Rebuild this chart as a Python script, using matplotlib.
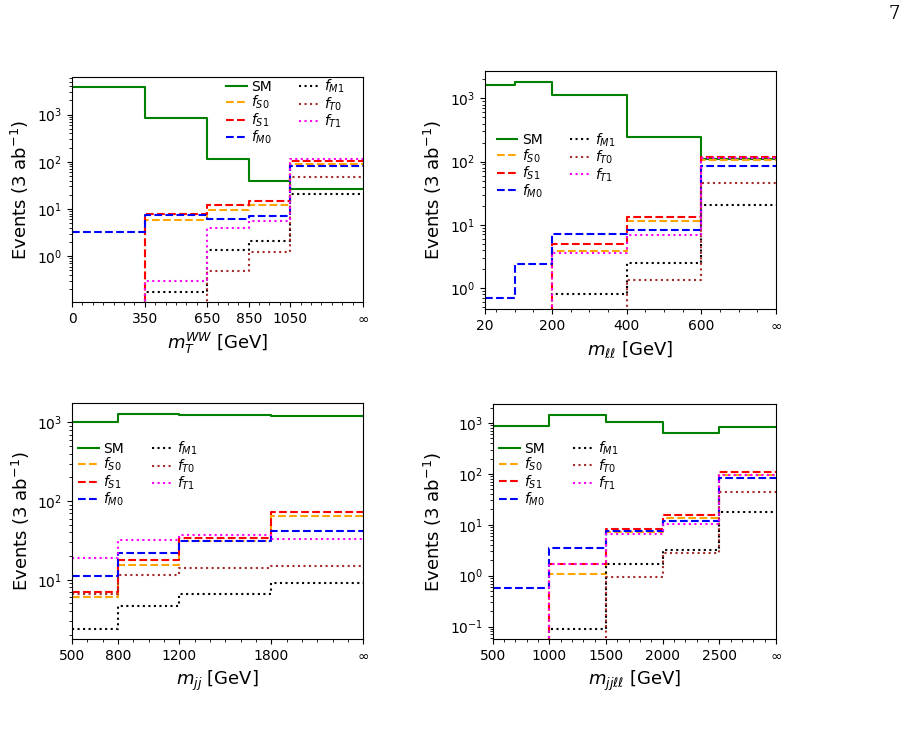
import matplotlib
matplotlib.use('Agg')
import matplotlib.pyplot as plt
import numpy as np
from matplotlib.ticker import MultipleLocator

# bin edges (last edge stands for infinity)
edges_mT = [0, 350, 650, 850, 1050, 1400]
edges_mll = [20, 100, 200, 400, 600, 800]
edges_mjj = [500, 800, 1200, 1800, 2400]
edges_mjjll = [500, 1000, 1500, 2000, 2500, 3000]

ticks_mT = [0, 350, 650, 850, 1050, 1400]
ticks_mll = [20, 200, 400, 600, 800]
ticks_mjj = [500, 800, 1200, 1800, 2400]
ticks_mjjll = [500, 1000, 1500, 2000, 2500, 3000]

labels_mT = ['0', '350', '650', '850', '1050', r'$\infty$']
labels_mll = ['20', '200', '400', '600', r'$\infty$']
labels_mjj = ['500', '800', '1200', '1800', r'$\infty$']
labels_mjjll = ['500', '1000', '1500', '2000', '2500', r'$\infty$']

# events per bin, 3 ab^-1
mT_SM = [3800, 855, 112, 38.5, 27]
mT_S0 = [0, 5.7, 9.7, 12.4, 88]
mT_S1 = [0, 7.7, 12.0, 14.8, 102]
mT_M0 = [3.3, 7.6, 6.2, 7.0, 81]
mT_M1 = [0, 0.176, 1.38, 2.07, 20.5]
mT_T0 = [0, 0, 0.49, 1.23, 47.5]
mT_T1 = [0, 0.30, 4.0, 5.6, 116]

mll_SM = [1625, 1835, 1120, 245, 110]
mll_S0 = [0, 0, 3.8, 11.4, 105]
mll_S1 = [0, 0, 5.0, 13.4, 117]
mll_M0 = [0.68, 2.42, 7.2, 8.3, 86]
mll_M1 = [0, 0, 0.81, 2.45, 20.2]
mll_T0 = [0, 0, 0, 1.35, 46.5]
mll_T1 = [0, 0, 3.5, 6.8, 113]

mjj_SM = [1018, 1276, 1240, 1205]
mjj_S0 = [6.1, 15.2, 30.8, 64.6]
mjj_S1 = [7.1, 17.6, 33.6, 73.5]
mjj_M0 = [11.1, 21.8, 30.8, 41.6]
mjj_M1 = [2.4, 4.65, 6.6, 9.2]
mjj_T0 = [6.6, 11.6, 14.1, 15.1]
mjj_T1 = [19.1, 31.7, 36.7, 33.3]

mjjll_SM = [885, 1455, 1028, 633, 833]
mjjll_S0 = [0, 1.1, 7.1, 13.6, 95]
mjjll_S1 = [0, 1.67, 8.3, 15.8, 107]
mjjll_M0 = [0.56, 3.44, 7.65, 11.7, 81.6]
mjjll_M1 = [0, 0.091, 1.67, 3.24, 17.5]
mjjll_T0 = [0, 0, 0.93, 2.74, 43.3]
mjjll_T1 = [0, 1.72, 6.6, 10.5, 96]

names = ['SM', '$f_{S0}$', '$f_{S1}$', '$f_{M0}$', '$f_{M1}$', '$f_{T0}$', '$f_{T1}$']
colors = ['green', 'orange', 'red', 'blue', 'black', 'brown', 'magenta']
styles = ['-', '--', '--', '--', ':', ':', ':']

panels = [
    (edges_mT, [mT_SM, mT_S0, mT_S1, mT_M0, mT_M1, mT_T0, mT_T1],
     ticks_mT, labels_mT, 50, r'$m_T^{WW}$ [GeV]'),
    (edges_mll, [mll_SM, mll_S0, mll_S1, mll_M0, mll_M1, mll_T0, mll_T1],
     ticks_mll, labels_mll, 50, r'$m_{\ell\ell}$ [GeV]'),
    (edges_mjj, [mjj_SM, mjj_S0, mjj_S1, mjj_M0, mjj_M1, mjj_T0, mjj_T1],
     ticks_mjj, labels_mjj, 100, r'$m_{jj}$ [GeV]'),
    (edges_mjjll, [mjjll_SM, mjjll_S0, mjjll_S1, mjjll_M0, mjjll_M1, mjjll_T0, mjjll_T1],
     ticks_mjjll, labels_mjjll, 100, r'$m_{jj\ell\ell}$ [GeV]'),
]

# axes boxes in figure fractions
boxes = [
    [0.0795, 0.593, 0.3212, 0.3032],
    [0.5353, 0.5832, 0.3212, 0.3212],
    [0.0795, 0.1384, 0.3215, 0.318],
    [0.5438, 0.1384, 0.3127, 0.3171],
]
legend_anchor = [(0.509, 1.02), (0.021, 0.77), (0.0024, 0.868), (0.0035, 0.871)]

fig = plt.figure(figsize=(9.06, 7.42), dpi=100)

for box, panel, anchor in zip(boxes, panels, legend_anchor):
    edges, series, ticks, ticklabels, minor, xlabel = panel
    ax = fig.add_axes(box)
    for vals, name, c, ls in zip(series, names, colors, styles):
        y = np.append(vals, vals[-1])
        ax.step(edges, y, where='post', color=c, linestyle=ls, lw=1.5, label=name)
    ax.set_yscale('log')
    ax.set_xlim(edges[0], edges[-1])
    ax.set_xticks(ticks)
    ax.set_xticklabels(ticklabels)
    ax.xaxis.set_minor_locator(MultipleLocator(minor))
    ax.tick_params(labelsize=10)
    ax.set_xlabel(xlabel, fontsize=13)
    ax.set_ylabel('Events (3 ab$^{-1}$)', fontsize=13)
    ax.legend(ncol=2, frameon=False, fontsize=10, loc='upper left',
              bbox_to_anchor=anchor, borderaxespad=0, handlelength=1.5,
              handletextpad=0.3, labelspacing=0.0, columnspacing=2.0)

fig.text(0.987, 0.981, '7', fontsize=13, family='DejaVu Serif', ha='center', va='center')

fig.savefig('out.png', dpi=100)
